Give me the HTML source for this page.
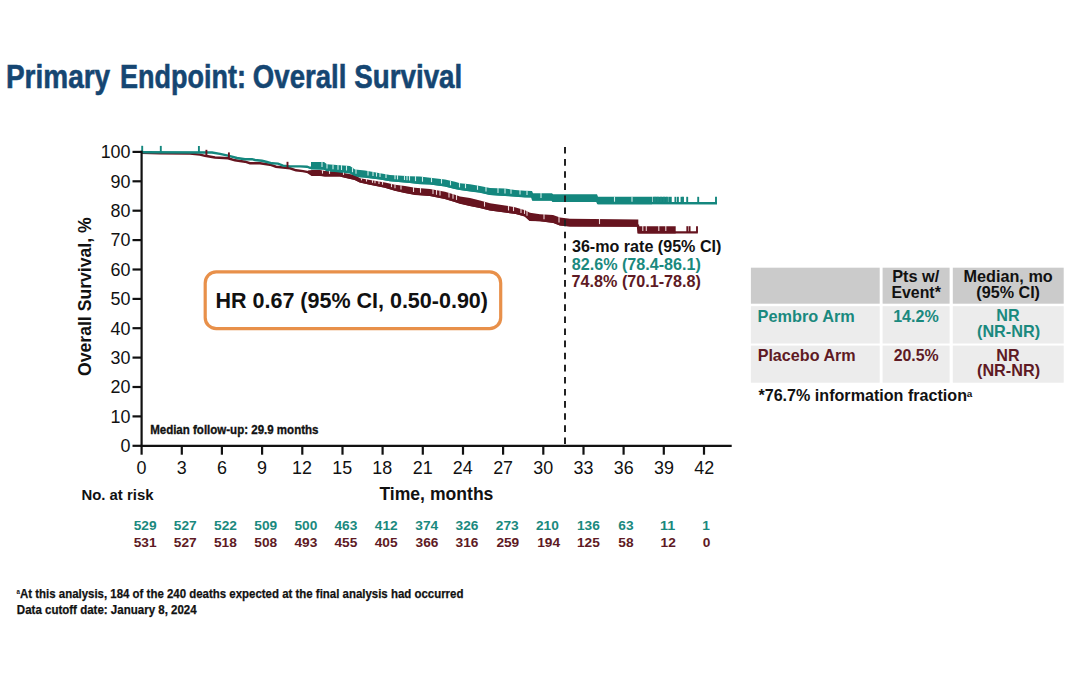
<!DOCTYPE html>
<html><head><meta charset="utf-8"><style>
html,body{margin:0;padding:0;background:#fff;}
svg{display:block;font-family:"Liberation Sans", sans-serif;}
</style></head><body>
<svg width="1080" height="678" viewBox="0 0 1080 678">
<rect width="1080" height="678" fill="#fff"/>
<polyline points="141.6,152.7 160.0,153.2 190.0,153.6 200.0,154.6 205.0,155.8 215.0,157.5 228.0,158.3 235.0,160.3 245.0,161.7 250.0,163.2 260.0,163.3 270.0,164.7 276.0,166.7 283.0,167.5 290.0,168.3 296.0,170.3 303.0,171.1 308.0,172.2 312.0,174.7 320.0,174.7 325.0,175.3 340.0,175.4 345.0,176.7 355.0,178.9 360.0,181.3 370.0,183.7 385.0,186.6 395.0,189.6 405.0,191.9 415.0,193.7 430.0,194.9 445.0,197.8 455.0,200.8 460.0,202.5 470.0,204.8 480.0,206.8 490.0,209.4 505.0,211.4 515.0,212.7 525.0,215.4 530.0,219.7 540.0,220.1 553.0,221.7 560.0,224.4 570.0,225.4 638.0,225.6 638.5,232.4 697.8,232.4" fill="none" stroke="#66141f" stroke-width="2.4" stroke-linejoin="miter"/>
<polygon points="308.0,170.6 312.0,170.0 320.0,170.0 325.0,171.1 340.0,171.5 345.0,173.3 355.0,175.0 360.0,178.3 370.0,180.0 385.0,182.4 395.0,184.8 405.0,186.0 415.0,187.7 430.0,188.9 445.0,191.8 455.0,194.8 460.0,196.5 470.0,197.9 480.0,200.6 490.0,203.2 505.0,205.5 515.0,207.2 525.0,210.2 530.0,212.7 540.0,214.2 553.0,214.9 560.0,217.5 570.0,218.8 638.3,219.5 638.3,226.7 570.0,226.5 560.0,225.5 553.0,222.8 540.0,221.2 530.0,220.8 525.0,216.5 515.0,213.8 505.0,212.5 490.0,210.5 480.0,207.9 470.0,205.9 460.0,203.6 455.0,201.9 445.0,198.9 430.0,196.0 415.0,194.8 405.0,193.0 395.0,190.7 385.0,187.7 370.0,184.8 360.0,182.4 355.0,180.0 345.0,177.8 340.0,176.5 325.0,176.4 320.0,175.8 312.0,175.8 308.0,172.8" fill="#66141f"/>
<polygon points="638.3,226.3 675.7,226.3 675.7,233.5 638.3,233.5" fill="#66141f"/>
<polyline points="141.6,152.2 212.0,152.5 220.0,153.9 228.0,155.6 237.0,158.0 245.0,159.2 252.0,159.2 255.0,160.0 262.0,160.8 267.0,162.0 272.0,163.3 278.0,163.6 283.0,165.6 290.0,166.4 300.0,166.4 307.0,166.7 310.0,167.8 324.0,168.5 327.0,170.0 350.0,172.2 355.0,174.9 365.0,176.5 380.0,178.4 390.0,180.1 410.0,181.9 420.0,183.0 430.0,183.4 445.0,185.4 455.0,187.8 460.0,188.9 470.0,190.2 480.0,191.5 490.0,193.8 505.0,194.8 515.0,195.5 525.0,196.2 532.0,196.4 533.0,199.5 552.0,199.5 553.0,200.7 597.0,200.8 598.0,203.1 717.0,203.2" fill="none" stroke="#14877e" stroke-width="2.4" stroke-linejoin="miter"/>
<polygon points="311.0,161.9 324.0,161.9 327.0,164.2 350.0,166.1 355.0,169.4 360.0,170.0 365.0,170.5 380.0,173.3 390.0,175.0 410.0,176.2 420.0,176.5 430.0,177.7 445.0,179.4 455.0,181.8 460.0,183.3 470.0,184.3 480.0,186.0 490.0,188.0 505.0,188.6 515.0,190.0 525.0,190.8 532.0,191.0 533.0,193.3 552.0,193.3 553.0,194.3 597.0,194.3 598.0,196.7 652.0,196.7 652.0,204.2 598.0,204.2 597.0,201.8 553.0,201.8 552.0,200.6 533.0,200.6 532.0,197.5 525.0,197.3 515.0,196.6 505.0,195.9 490.0,194.9 480.0,192.6 470.0,191.3 460.0,190.0 455.0,188.9 445.0,186.5 430.0,184.5 420.0,184.0 410.0,183.0 390.0,181.2 380.0,179.5 365.0,177.5 360.0,177.5 355.0,176.0 350.0,173.3 327.0,171.1 324.0,169.6 311.0,169.4" fill="#14877e"/>
<line x1="142.2" y1="145.8" x2="142.2" y2="152.2" stroke="#14877e" stroke-width="1.9"/>
<line x1="160.8" y1="145.9" x2="160.8" y2="152.3" stroke="#14877e" stroke-width="1.9"/>
<line x1="198.9" y1="146.0" x2="198.9" y2="152.4" stroke="#14877e" stroke-width="1.9"/>
<line x1="653.5" y1="196.7" x2="653.5" y2="203.1" stroke="#14877e" stroke-width="1.9"/>
<line x1="655.0" y1="196.7" x2="655.0" y2="203.1" stroke="#14877e" stroke-width="1.9"/>
<line x1="656.5" y1="196.7" x2="656.5" y2="203.1" stroke="#14877e" stroke-width="1.9"/>
<line x1="658.0" y1="196.8" x2="658.0" y2="203.2" stroke="#14877e" stroke-width="1.9"/>
<line x1="659.5" y1="196.8" x2="659.5" y2="203.2" stroke="#14877e" stroke-width="1.9"/>
<line x1="661.0" y1="196.8" x2="661.0" y2="203.2" stroke="#14877e" stroke-width="1.9"/>
<line x1="662.5" y1="196.8" x2="662.5" y2="203.2" stroke="#14877e" stroke-width="1.9"/>
<line x1="664.0" y1="196.8" x2="664.0" y2="203.2" stroke="#14877e" stroke-width="1.9"/>
<line x1="665.5" y1="196.8" x2="665.5" y2="203.2" stroke="#14877e" stroke-width="1.9"/>
<line x1="667.0" y1="196.8" x2="667.0" y2="203.2" stroke="#14877e" stroke-width="1.9"/>
<line x1="669.2" y1="196.8" x2="669.2" y2="203.2" stroke="#14877e" stroke-width="1.9"/>
<line x1="670.8" y1="196.8" x2="670.8" y2="203.2" stroke="#14877e" stroke-width="1.9"/>
<line x1="675.4" y1="196.8" x2="675.4" y2="203.2" stroke="#14877e" stroke-width="1.9"/>
<line x1="677.9" y1="196.8" x2="677.9" y2="203.2" stroke="#14877e" stroke-width="1.9"/>
<line x1="681.5" y1="196.8" x2="681.5" y2="203.2" stroke="#14877e" stroke-width="1.9"/>
<line x1="683.0" y1="196.8" x2="683.0" y2="203.2" stroke="#14877e" stroke-width="1.9"/>
<line x1="687.2" y1="196.8" x2="687.2" y2="203.2" stroke="#14877e" stroke-width="1.9"/>
<line x1="698.2" y1="196.8" x2="698.2" y2="203.2" stroke="#14877e" stroke-width="1.9"/>
<line x1="716.0" y1="196.8" x2="716.0" y2="203.2" stroke="#14877e" stroke-width="1.9"/>
<line x1="322.0" y1="161.6" x2="322.0" y2="167.0" stroke="#d8f4f0" stroke-width="1.1" opacity="0.95"/>
<line x1="327.0" y1="163.9" x2="327.0" y2="168.6" stroke="#d8f4f0" stroke-width="1.1" opacity="0.95"/>
<line x1="333.0" y1="164.4" x2="333.0" y2="169.2" stroke="#d8f4f0" stroke-width="1.1" opacity="0.95"/>
<line x1="338.0" y1="164.8" x2="338.0" y2="169.7" stroke="#d8f4f0" stroke-width="1.1" opacity="0.95"/>
<line x1="341.5" y1="165.1" x2="341.5" y2="170.0" stroke="#d8f4f0" stroke-width="1.1" opacity="0.95"/>
<line x1="346.5" y1="165.5" x2="346.5" y2="170.5" stroke="#d8f4f0" stroke-width="1.1" opacity="0.95"/>
<line x1="352.5" y1="167.4" x2="352.5" y2="172.2" stroke="#d8f4f0" stroke-width="1.1" opacity="0.95"/>
<line x1="356.0" y1="169.2" x2="356.0" y2="173.7" stroke="#d8f4f0" stroke-width="1.1" opacity="0.95"/>
<line x1="368.0" y1="170.8" x2="368.0" y2="175.5" stroke="#d8f4f0" stroke-width="1.1" opacity="0.95"/>
<line x1="373.0" y1="171.7" x2="373.0" y2="176.1" stroke="#d8f4f0" stroke-width="1.1" opacity="0.95"/>
<line x1="376.5" y1="172.3" x2="376.5" y2="176.6" stroke="#d8f4f0" stroke-width="1.1" opacity="0.95"/>
<line x1="380.0" y1="173.0" x2="380.0" y2="177.0" stroke="#d8f4f0" stroke-width="1.1" opacity="0.95"/>
<line x1="386.0" y1="174.0" x2="386.0" y2="178.0" stroke="#d8f4f0" stroke-width="1.1" opacity="0.95"/>
<line x1="395.0" y1="175.0" x2="395.0" y2="179.2" stroke="#d8f4f0" stroke-width="1.1" opacity="0.95"/>
<line x1="397.5" y1="175.1" x2="397.5" y2="179.4" stroke="#d8f4f0" stroke-width="1.1" opacity="0.95"/>
<line x1="404.5" y1="175.6" x2="404.5" y2="180.0" stroke="#d8f4f0" stroke-width="1.1" opacity="0.95"/>
<line x1="407.0" y1="175.7" x2="407.0" y2="180.2" stroke="#d8f4f0" stroke-width="1.1" opacity="0.95"/>
<line x1="409.5" y1="175.9" x2="409.5" y2="180.5" stroke="#d8f4f0" stroke-width="1.1" opacity="0.95"/>
<line x1="415.5" y1="176.1" x2="415.5" y2="181.1" stroke="#d8f4f0" stroke-width="1.1" opacity="0.95"/>
<line x1="422.5" y1="176.5" x2="422.5" y2="181.7" stroke="#d8f4f0" stroke-width="1.1" opacity="0.95"/>
<line x1="431.5" y1="177.6" x2="431.5" y2="182.2" stroke="#d8f4f0" stroke-width="1.1" opacity="0.95"/>
<line x1="441.5" y1="178.7" x2="441.5" y2="183.5" stroke="#d8f4f0" stroke-width="1.1" opacity="0.95"/>
<line x1="450.5" y1="180.4" x2="450.5" y2="185.3" stroke="#d8f4f0" stroke-width="1.1" opacity="0.95"/>
<line x1="459.5" y1="182.8" x2="459.5" y2="187.4" stroke="#d8f4f0" stroke-width="1.1" opacity="0.95"/>
<line x1="465.5" y1="183.6" x2="465.5" y2="188.2" stroke="#d8f4f0" stroke-width="1.1" opacity="0.95"/>
<line x1="477.5" y1="185.3" x2="477.5" y2="189.8" stroke="#d8f4f0" stroke-width="1.1" opacity="0.95"/>
<line x1="486.0" y1="186.9" x2="486.0" y2="191.5" stroke="#d8f4f0" stroke-width="1.1" opacity="0.95"/>
<line x1="498.0" y1="188.0" x2="498.0" y2="192.9" stroke="#d8f4f0" stroke-width="1.1" opacity="0.95"/>
<line x1="505.0" y1="188.3" x2="505.0" y2="193.4" stroke="#d8f4f0" stroke-width="1.1" opacity="0.95"/>
<line x1="511.0" y1="189.1" x2="511.0" y2="193.8" stroke="#d8f4f0" stroke-width="1.1" opacity="0.95"/>
<line x1="520.0" y1="190.1" x2="520.0" y2="194.4" stroke="#d8f4f0" stroke-width="1.1" opacity="0.95"/>
<line x1="527.0" y1="190.6" x2="527.0" y2="194.9" stroke="#d8f4f0" stroke-width="1.1" opacity="0.95"/>
<line x1="541.0" y1="193.0" x2="541.0" y2="198.1" stroke="#d8f4f0" stroke-width="1.1" opacity="0.95"/>
<line x1="614.5" y1="196.4" x2="614.5" y2="201.7" stroke="#d8f4f0" stroke-width="1.1" opacity="0.95"/>
<line x1="632.0" y1="196.4" x2="632.0" y2="201.7" stroke="#d8f4f0" stroke-width="1.1" opacity="0.95"/>
<line x1="322.5" y1="170.2" x2="322.5" y2="173.6" stroke="#f4e0e2" stroke-width="1.1" opacity="0.95"/>
<line x1="329.5" y1="170.9" x2="329.5" y2="173.9" stroke="#f4e0e2" stroke-width="1.1" opacity="0.95"/>
<line x1="343.5" y1="172.5" x2="343.5" y2="174.9" stroke="#f4e0e2" stroke-width="1.1" opacity="0.95"/>
<line x1="361.5" y1="178.3" x2="361.5" y2="180.3" stroke="#f4e0e2" stroke-width="1.1" opacity="0.95"/>
<line x1="366.5" y1="179.1" x2="366.5" y2="181.5" stroke="#f4e0e2" stroke-width="1.1" opacity="0.95"/>
<line x1="372.5" y1="180.1" x2="372.5" y2="182.8" stroke="#f4e0e2" stroke-width="1.1" opacity="0.95"/>
<line x1="375.0" y1="180.5" x2="375.0" y2="183.3" stroke="#f4e0e2" stroke-width="1.1" opacity="0.95"/>
<line x1="379.0" y1="181.1" x2="379.0" y2="184.0" stroke="#f4e0e2" stroke-width="1.1" opacity="0.95"/>
<line x1="382.5" y1="181.7" x2="382.5" y2="184.7" stroke="#f4e0e2" stroke-width="1.1" opacity="0.95"/>
<line x1="391.5" y1="183.7" x2="391.5" y2="187.1" stroke="#f4e0e2" stroke-width="1.1" opacity="0.95"/>
<line x1="395.0" y1="184.5" x2="395.0" y2="188.2" stroke="#f4e0e2" stroke-width="1.1" opacity="0.95"/>
<line x1="401.0" y1="185.2" x2="401.0" y2="189.6" stroke="#f4e0e2" stroke-width="1.1" opacity="0.95"/>
<line x1="413.5" y1="187.1" x2="413.5" y2="192.0" stroke="#f4e0e2" stroke-width="1.1" opacity="0.95"/>
<line x1="420.5" y1="187.8" x2="420.5" y2="192.7" stroke="#f4e0e2" stroke-width="1.1" opacity="0.95"/>
<line x1="433.0" y1="189.2" x2="433.0" y2="194.1" stroke="#f4e0e2" stroke-width="1.1" opacity="0.95"/>
<line x1="436.5" y1="189.9" x2="436.5" y2="194.8" stroke="#f4e0e2" stroke-width="1.1" opacity="0.95"/>
<line x1="440.0" y1="190.5" x2="440.0" y2="195.4" stroke="#f4e0e2" stroke-width="1.1" opacity="0.95"/>
<line x1="449.0" y1="192.7" x2="449.0" y2="197.6" stroke="#f4e0e2" stroke-width="1.1" opacity="0.95"/>
<line x1="453.0" y1="193.9" x2="453.0" y2="198.8" stroke="#f4e0e2" stroke-width="1.1" opacity="0.95"/>
<line x1="456.5" y1="195.0" x2="456.5" y2="199.9" stroke="#f4e0e2" stroke-width="1.1" opacity="0.95"/>
<line x1="484.5" y1="201.5" x2="484.5" y2="206.6" stroke="#f4e0e2" stroke-width="1.1" opacity="0.95"/>
<line x1="508.5" y1="205.8" x2="508.5" y2="210.5" stroke="#f4e0e2" stroke-width="1.1" opacity="0.95"/>
<line x1="513.5" y1="206.6" x2="513.5" y2="211.1" stroke="#f4e0e2" stroke-width="1.1" opacity="0.95"/>
<line x1="521.0" y1="208.7" x2="521.0" y2="212.9" stroke="#f4e0e2" stroke-width="1.1" opacity="0.95"/>
<line x1="524.5" y1="209.7" x2="524.5" y2="213.9" stroke="#f4e0e2" stroke-width="1.1" opacity="0.95"/>
<line x1="527.0" y1="210.9" x2="527.0" y2="215.7" stroke="#f4e0e2" stroke-width="1.1" opacity="0.95"/>
<line x1="544.0" y1="214.1" x2="544.0" y2="219.2" stroke="#f4e0e2" stroke-width="1.1" opacity="0.95"/>
<line x1="559.0" y1="216.8" x2="559.0" y2="222.6" stroke="#f4e0e2" stroke-width="1.1" opacity="0.95"/>
<line x1="599.5" y1="218.8" x2="599.5" y2="224.1" stroke="#f4e0e2" stroke-width="1.1" opacity="0.95"/>
<line x1="642.8" y1="226.0" x2="642.8" y2="231.0" stroke="#f4e0e2" stroke-width="1.1" opacity="0.95"/>
<line x1="646.3" y1="226.0" x2="646.3" y2="231.0" stroke="#f4e0e2" stroke-width="1.1" opacity="0.95"/>
<line x1="658.8" y1="226.0" x2="658.8" y2="231.0" stroke="#f4e0e2" stroke-width="1.1" opacity="0.95"/>
<line x1="665.8" y1="226.0" x2="665.8" y2="231.0" stroke="#f4e0e2" stroke-width="1.1" opacity="0.95"/>
<line x1="206.4" y1="149.8" x2="206.4" y2="156.0" stroke="#66141f" stroke-width="1.9"/>
<line x1="228.9" y1="152.4" x2="228.9" y2="158.6" stroke="#66141f" stroke-width="1.9"/>
<line x1="287.5" y1="161.8" x2="287.5" y2="168.0" stroke="#66141f" stroke-width="1.9"/>
<line x1="687.3" y1="226.2" x2="687.3" y2="232.4" stroke="#66141f" stroke-width="1.9"/>
<line x1="689.6" y1="226.2" x2="689.6" y2="232.4" stroke="#66141f" stroke-width="1.9"/>
<line x1="697.0" y1="226.2" x2="697.0" y2="232.4" stroke="#66141f" stroke-width="1.9"/>
<text x="5.93" y="88.00" font-size="34.00" font-weight="bold" fill="#154672" textLength="104.22" lengthAdjust="spacingAndGlyphs" stroke="#154672" stroke-width="0.6">Primary</text>
<text x="119.99" y="88.00" font-size="34.00" font-weight="bold" fill="#154672" textLength="125.90" lengthAdjust="spacingAndGlyphs" stroke="#154672" stroke-width="0.6">Endpoint:</text>
<text x="252.87" y="88.00" font-size="34.00" font-weight="bold" fill="#154672" textLength="93.48" lengthAdjust="spacingAndGlyphs" stroke="#154672" stroke-width="0.6">Overall</text>
<text x="354.30" y="88.00" font-size="34.00" font-weight="bold" fill="#154672" textLength="107.96" lengthAdjust="spacingAndGlyphs" stroke="#154672" stroke-width="0.6">Survival</text>
<line x1="141.6" y1="150.8" x2="141.6" y2="446.90000000000003" stroke="#111" stroke-width="2.2"/>
<line x1="140.5" y1="445.8" x2="731.7" y2="445.8" stroke="#111" stroke-width="2.2"/>
<line x1="132.5" y1="445.8" x2="141.6" y2="445.8" stroke="#111" stroke-width="2.2"/>
<text x="120.54" y="452.10" font-size="17.90" font-weight="normal" fill="#111" textLength="9.96" lengthAdjust="spacingAndGlyphs">0</text>
<line x1="132.5" y1="416.4" x2="141.6" y2="416.4" stroke="#111" stroke-width="2.2"/>
<text x="110.59" y="422.71" font-size="17.90" font-weight="normal" fill="#111" textLength="19.91" lengthAdjust="spacingAndGlyphs">10</text>
<line x1="132.5" y1="387.0" x2="141.6" y2="387.0" stroke="#111" stroke-width="2.2"/>
<text x="110.59" y="393.32" font-size="17.90" font-weight="normal" fill="#111" textLength="19.91" lengthAdjust="spacingAndGlyphs">20</text>
<line x1="132.5" y1="357.6" x2="141.6" y2="357.6" stroke="#111" stroke-width="2.2"/>
<text x="110.59" y="363.93" font-size="17.90" font-weight="normal" fill="#111" textLength="19.91" lengthAdjust="spacingAndGlyphs">30</text>
<line x1="132.5" y1="328.2" x2="141.6" y2="328.2" stroke="#111" stroke-width="2.2"/>
<text x="110.59" y="334.54" font-size="17.90" font-weight="normal" fill="#111" textLength="19.91" lengthAdjust="spacingAndGlyphs">40</text>
<line x1="132.5" y1="298.9" x2="141.6" y2="298.9" stroke="#111" stroke-width="2.2"/>
<text x="110.59" y="305.15" font-size="17.90" font-weight="normal" fill="#111" textLength="19.91" lengthAdjust="spacingAndGlyphs">50</text>
<line x1="132.5" y1="269.5" x2="141.6" y2="269.5" stroke="#111" stroke-width="2.2"/>
<text x="110.59" y="275.76" font-size="17.90" font-weight="normal" fill="#111" textLength="19.91" lengthAdjust="spacingAndGlyphs">60</text>
<line x1="132.5" y1="240.1" x2="141.6" y2="240.1" stroke="#111" stroke-width="2.2"/>
<text x="110.59" y="246.37" font-size="17.90" font-weight="normal" fill="#111" textLength="19.91" lengthAdjust="spacingAndGlyphs">70</text>
<line x1="132.5" y1="210.7" x2="141.6" y2="210.7" stroke="#111" stroke-width="2.2"/>
<text x="110.59" y="216.98" font-size="17.90" font-weight="normal" fill="#111" textLength="19.91" lengthAdjust="spacingAndGlyphs">80</text>
<line x1="132.5" y1="181.3" x2="141.6" y2="181.3" stroke="#111" stroke-width="2.2"/>
<text x="110.59" y="187.59" font-size="17.90" font-weight="normal" fill="#111" textLength="19.91" lengthAdjust="spacingAndGlyphs">90</text>
<line x1="132.5" y1="151.9" x2="141.6" y2="151.9" stroke="#111" stroke-width="2.2"/>
<text x="100.63" y="158.20" font-size="17.90" font-weight="normal" fill="#111" textLength="29.87" lengthAdjust="spacingAndGlyphs">100</text>
<line x1="141.6" y1="445.8" x2="141.6" y2="454.7" stroke="#111" stroke-width="2.2"/>
<text x="136.62" y="473.50" font-size="17.90" font-weight="normal" fill="#111" textLength="9.96" lengthAdjust="spacingAndGlyphs">0</text>
<line x1="181.8" y1="445.8" x2="181.8" y2="454.7" stroke="#111" stroke-width="2.2"/>
<text x="176.84" y="473.50" font-size="17.90" font-weight="normal" fill="#111" textLength="9.96" lengthAdjust="spacingAndGlyphs">3</text>
<line x1="221.9" y1="445.8" x2="221.9" y2="454.7" stroke="#111" stroke-width="2.2"/>
<text x="216.90" y="473.50" font-size="17.90" font-weight="normal" fill="#111" textLength="9.96" lengthAdjust="spacingAndGlyphs">6</text>
<line x1="262.1" y1="445.8" x2="262.1" y2="454.7" stroke="#111" stroke-width="2.2"/>
<text x="257.14" y="473.50" font-size="17.90" font-weight="normal" fill="#111" textLength="9.96" lengthAdjust="spacingAndGlyphs">9</text>
<line x1="302.3" y1="445.8" x2="302.3" y2="454.7" stroke="#111" stroke-width="2.2"/>
<text x="292.09" y="473.50" font-size="17.90" font-weight="normal" fill="#111" textLength="19.91" lengthAdjust="spacingAndGlyphs">12</text>
<line x1="342.5" y1="445.8" x2="342.5" y2="454.7" stroke="#111" stroke-width="2.2"/>
<text x="332.19" y="473.50" font-size="17.90" font-weight="normal" fill="#111" textLength="19.91" lengthAdjust="spacingAndGlyphs">15</text>
<line x1="382.6" y1="445.8" x2="382.6" y2="454.7" stroke="#111" stroke-width="2.2"/>
<text x="372.37" y="473.50" font-size="17.90" font-weight="normal" fill="#111" textLength="19.91" lengthAdjust="spacingAndGlyphs">18</text>
<line x1="422.8" y1="445.8" x2="422.8" y2="454.7" stroke="#111" stroke-width="2.2"/>
<text x="412.82" y="473.50" font-size="17.90" font-weight="normal" fill="#111" textLength="19.91" lengthAdjust="spacingAndGlyphs">21</text>
<line x1="463.0" y1="445.8" x2="463.0" y2="454.7" stroke="#111" stroke-width="2.2"/>
<text x="452.82" y="473.50" font-size="17.90" font-weight="normal" fill="#111" textLength="19.91" lengthAdjust="spacingAndGlyphs">24</text>
<line x1="503.1" y1="445.8" x2="503.1" y2="454.7" stroke="#111" stroke-width="2.2"/>
<text x="493.17" y="473.50" font-size="17.90" font-weight="normal" fill="#111" textLength="19.91" lengthAdjust="spacingAndGlyphs">27</text>
<line x1="543.3" y1="445.8" x2="543.3" y2="454.7" stroke="#111" stroke-width="2.2"/>
<text x="533.35" y="473.50" font-size="17.90" font-weight="normal" fill="#111" textLength="19.91" lengthAdjust="spacingAndGlyphs">30</text>
<line x1="583.5" y1="445.8" x2="583.5" y2="454.7" stroke="#111" stroke-width="2.2"/>
<text x="573.57" y="473.50" font-size="17.90" font-weight="normal" fill="#111" textLength="19.91" lengthAdjust="spacingAndGlyphs">33</text>
<line x1="623.6" y1="445.8" x2="623.6" y2="454.7" stroke="#111" stroke-width="2.2"/>
<text x="613.74" y="473.50" font-size="17.90" font-weight="normal" fill="#111" textLength="19.91" lengthAdjust="spacingAndGlyphs">36</text>
<line x1="663.8" y1="445.8" x2="663.8" y2="454.7" stroke="#111" stroke-width="2.2"/>
<text x="653.94" y="473.50" font-size="17.90" font-weight="normal" fill="#111" textLength="19.91" lengthAdjust="spacingAndGlyphs">39</text>
<line x1="704.0" y1="445.8" x2="704.0" y2="454.7" stroke="#111" stroke-width="2.2"/>
<text x="694.27" y="473.50" font-size="17.90" font-weight="normal" fill="#111" textLength="19.91" lengthAdjust="spacingAndGlyphs">42</text>
<line x1="565" y1="147" x2="565" y2="445.8" stroke="#222" stroke-width="2" stroke-dasharray="6.6 5.5"/>
<text transform="translate(91.4,375.2) rotate(-90)" x="-0.72" y="0" font-size="17.60" font-weight="bold" fill="#111" textLength="158.49" lengthAdjust="spacingAndGlyphs">Overall Survival, %</text>
<text x="150.13" y="434.40" font-size="13.66" font-weight="bold" fill="#111" textLength="168.34" lengthAdjust="spacingAndGlyphs" stroke="#111" stroke-width="0.35">Median follow-up: 29.9 months</text>
<rect x="205.2" y="271.9" width="295.5" height="56.8" rx="11" ry="11" fill="#fff" stroke="#e8904a" stroke-width="3.2"/>
<text x="215.46" y="307.70" font-size="21.50" font-weight="bold" fill="#111" textLength="272.51" lengthAdjust="spacingAndGlyphs">HR 0.67 (95% CI, 0.50-0.90)</text>
<text x="571.93" y="252.30" font-size="16.10" font-weight="bold" fill="#111" textLength="149.47" lengthAdjust="spacingAndGlyphs">36-mo rate (95% CI)</text>
<text x="571.79" y="269.80" font-size="16.10" font-weight="bold" fill="#1a897e" textLength="129.12" lengthAdjust="spacingAndGlyphs">82.6% (78.4-86.1)</text>
<text x="571.61" y="287.30" font-size="16.10" font-weight="bold" fill="#5e1a24" textLength="129.30" lengthAdjust="spacingAndGlyphs">74.8% (70.1-78.8)</text>
<text x="379.40" y="499.50" font-size="17.50" font-weight="bold" fill="#111" textLength="114.02" lengthAdjust="spacingAndGlyphs">Time, months</text>
<text x="81.40" y="500.40" font-size="14.90" font-weight="bold" fill="#111" textLength="72.08" lengthAdjust="spacingAndGlyphs">No. at risk</text>
<text x="133.71" y="530.20" font-size="13.70" font-weight="bold" fill="#1a897e" textLength="22.86" lengthAdjust="spacingAndGlyphs">529</text>
<text x="133.65" y="546.80" font-size="13.70" font-weight="bold" fill="#5e1a24" textLength="22.86" lengthAdjust="spacingAndGlyphs">531</text>
<text x="173.86" y="530.20" font-size="13.70" font-weight="bold" fill="#1a897e" textLength="22.86" lengthAdjust="spacingAndGlyphs">527</text>
<text x="173.86" y="546.80" font-size="13.70" font-weight="bold" fill="#5e1a24" textLength="22.86" lengthAdjust="spacingAndGlyphs">527</text>
<text x="214.03" y="530.20" font-size="13.70" font-weight="bold" fill="#1a897e" textLength="22.86" lengthAdjust="spacingAndGlyphs">522</text>
<text x="213.97" y="546.80" font-size="13.70" font-weight="bold" fill="#5e1a24" textLength="22.86" lengthAdjust="spacingAndGlyphs">518</text>
<text x="254.31" y="530.20" font-size="13.70" font-weight="bold" fill="#1a897e" textLength="22.86" lengthAdjust="spacingAndGlyphs">509</text>
<text x="254.27" y="546.80" font-size="13.70" font-weight="bold" fill="#5e1a24" textLength="22.86" lengthAdjust="spacingAndGlyphs">508</text>
<text x="294.44" y="530.20" font-size="13.70" font-weight="bold" fill="#1a897e" textLength="22.86" lengthAdjust="spacingAndGlyphs">500</text>
<text x="294.51" y="546.80" font-size="13.70" font-weight="bold" fill="#5e1a24" textLength="22.86" lengthAdjust="spacingAndGlyphs">493</text>
<text x="334.51" y="530.20" font-size="13.70" font-weight="bold" fill="#1a897e" textLength="22.86" lengthAdjust="spacingAndGlyphs">463</text>
<text x="334.46" y="546.80" font-size="13.70" font-weight="bold" fill="#5e1a24" textLength="22.86" lengthAdjust="spacingAndGlyphs">455</text>
<text x="374.84" y="530.20" font-size="13.70" font-weight="bold" fill="#1a897e" textLength="22.86" lengthAdjust="spacingAndGlyphs">412</text>
<text x="374.76" y="546.80" font-size="13.70" font-weight="bold" fill="#5e1a24" textLength="22.86" lengthAdjust="spacingAndGlyphs">405</text>
<text x="415.35" y="530.20" font-size="13.70" font-weight="bold" fill="#1a897e" textLength="22.86" lengthAdjust="spacingAndGlyphs">374</text>
<text x="415.56" y="546.80" font-size="13.70" font-weight="bold" fill="#5e1a24" textLength="22.86" lengthAdjust="spacingAndGlyphs">366</text>
<text x="455.56" y="530.20" font-size="13.70" font-weight="bold" fill="#1a897e" textLength="22.86" lengthAdjust="spacingAndGlyphs">326</text>
<text x="455.56" y="546.80" font-size="13.70" font-weight="bold" fill="#5e1a24" textLength="22.86" lengthAdjust="spacingAndGlyphs">316</text>
<text x="495.78" y="530.20" font-size="13.70" font-weight="bold" fill="#1a897e" textLength="22.86" lengthAdjust="spacingAndGlyphs">273</text>
<text x="496.39" y="546.80" font-size="13.70" font-weight="bold" fill="#5e1a24" textLength="22.86" lengthAdjust="spacingAndGlyphs">259</text>
<text x="536.01" y="530.20" font-size="13.70" font-weight="bold" fill="#1a897e" textLength="22.86" lengthAdjust="spacingAndGlyphs">210</text>
<text x="537.18" y="546.80" font-size="13.70" font-weight="bold" fill="#5e1a24" textLength="22.86" lengthAdjust="spacingAndGlyphs">194</text>
<text x="576.99" y="530.20" font-size="13.70" font-weight="bold" fill="#1a897e" textLength="22.86" lengthAdjust="spacingAndGlyphs">136</text>
<text x="576.93" y="546.80" font-size="13.70" font-weight="bold" fill="#5e1a24" textLength="22.86" lengthAdjust="spacingAndGlyphs">125</text>
<text x="618.28" y="530.20" font-size="13.70" font-weight="bold" fill="#1a897e" textLength="15.24" lengthAdjust="spacingAndGlyphs">63</text>
<text x="618.28" y="546.80" font-size="13.70" font-weight="bold" fill="#5e1a24" textLength="15.24" lengthAdjust="spacingAndGlyphs">58</text>
<text x="659.94" y="530.20" font-size="13.70" font-weight="bold" fill="#1a897e" textLength="15.24" lengthAdjust="spacingAndGlyphs">11</text>
<text x="660.62" y="546.80" font-size="13.70" font-weight="bold" fill="#5e1a24" textLength="15.24" lengthAdjust="spacingAndGlyphs">12</text>
<text x="702.25" y="530.20" font-size="13.70" font-weight="bold" fill="#1a897e" textLength="7.62" lengthAdjust="spacingAndGlyphs">1</text>
<text x="702.70" y="546.80" font-size="13.70" font-weight="bold" fill="#5e1a24" textLength="7.62" lengthAdjust="spacingAndGlyphs">0</text>
<rect x="750.9" y="267.7" width="128.8" height="36.0" fill="#cbcbcb"/>
<rect x="882.6" y="267.7" width="67.0" height="36.0" fill="#cbcbcb"/>
<rect x="952.8" y="267.7" width="110.9" height="36.0" fill="#cbcbcb"/>
<rect x="750.9" y="306.2" width="128.8" height="37.3" fill="#ececec"/>
<rect x="882.6" y="306.2" width="67.0" height="37.3" fill="#ececec"/>
<rect x="952.8" y="306.2" width="110.9" height="37.3" fill="#ececec"/>
<rect x="750.9" y="345.6" width="128.8" height="37.1" fill="#ececec"/>
<rect x="882.6" y="345.6" width="67.0" height="37.1" fill="#ececec"/>
<rect x="952.8" y="345.6" width="110.9" height="37.1" fill="#ececec"/>
<text x="892.21" y="282.30" font-size="16.10" font-weight="bold" fill="#111" textLength="47.15" lengthAdjust="spacingAndGlyphs">Pts w/</text>
<text x="891.44" y="297.50" font-size="16.10" font-weight="bold" fill="#111" textLength="49.38" lengthAdjust="spacingAndGlyphs">Event*</text>
<text x="963.51" y="282.20" font-size="16.10" font-weight="bold" fill="#111" textLength="89.22" lengthAdjust="spacingAndGlyphs">Median, mo</text>
<text x="976.30" y="297.60" font-size="16.10" font-weight="bold" fill="#111" textLength="63.71" lengthAdjust="spacingAndGlyphs">(95% CI)</text>
<text x="757.62" y="321.70" font-size="16.10" font-weight="bold" fill="#1a897e" textLength="97.09" lengthAdjust="spacingAndGlyphs">Pembro Arm</text>
<text x="893.19" y="321.70" font-size="16.10" font-weight="bold" fill="#1a897e" textLength="45.53" lengthAdjust="spacingAndGlyphs">14.2%</text>
<text x="996.32" y="321.30" font-size="16.10" font-weight="bold" fill="#1a897e" textLength="23.31" lengthAdjust="spacingAndGlyphs">NR</text>
<text x="976.99" y="337.20" font-size="16.10" font-weight="bold" fill="#1a897e" textLength="63.12" lengthAdjust="spacingAndGlyphs">(NR-NR)</text>
<text x="757.63" y="360.80" font-size="16.10" font-weight="bold" fill="#5e1a24" textLength="98.07" lengthAdjust="spacingAndGlyphs">Placebo Arm</text>
<text x="893.65" y="361.10" font-size="16.10" font-weight="bold" fill="#5e1a24" textLength="45.07" lengthAdjust="spacingAndGlyphs">20.5%</text>
<text x="996.32" y="361.00" font-size="16.10" font-weight="bold" fill="#5e1a24" textLength="23.31" lengthAdjust="spacingAndGlyphs">NR</text>
<text x="976.99" y="376.40" font-size="16.10" font-weight="bold" fill="#5e1a24" textLength="63.12" lengthAdjust="spacingAndGlyphs">(NR-NR)</text>
<text x="758.45" y="400.60" font-size="16.10" font-weight="bold" fill="#111" textLength="208.55" lengthAdjust="spacingAndGlyphs">*76.7% information fraction</text>
<text x="966.71" y="397.00" font-size="9.85" font-weight="bold" fill="#111" textLength="5.53" lengthAdjust="spacingAndGlyphs">a</text>
<text x="16.62" y="593.50" font-size="7.99" font-weight="bold" fill="#111" textLength="3.44" lengthAdjust="spacingAndGlyphs">a</text>
<text x="20.01" y="597.50" font-size="12.94" font-weight="bold" fill="#111" textLength="443.44" lengthAdjust="spacingAndGlyphs" stroke="#111" stroke-width="0.25">At this analysis, 184 of the 240 deaths expected at the final analysis had occurred</text>
<text x="16.83" y="613.80" font-size="12.35" font-weight="bold" fill="#111" textLength="179.83" lengthAdjust="spacingAndGlyphs" stroke="#111" stroke-width="0.25">Data cutoff date: January 8, 2024</text>
</svg>
</body></html>
